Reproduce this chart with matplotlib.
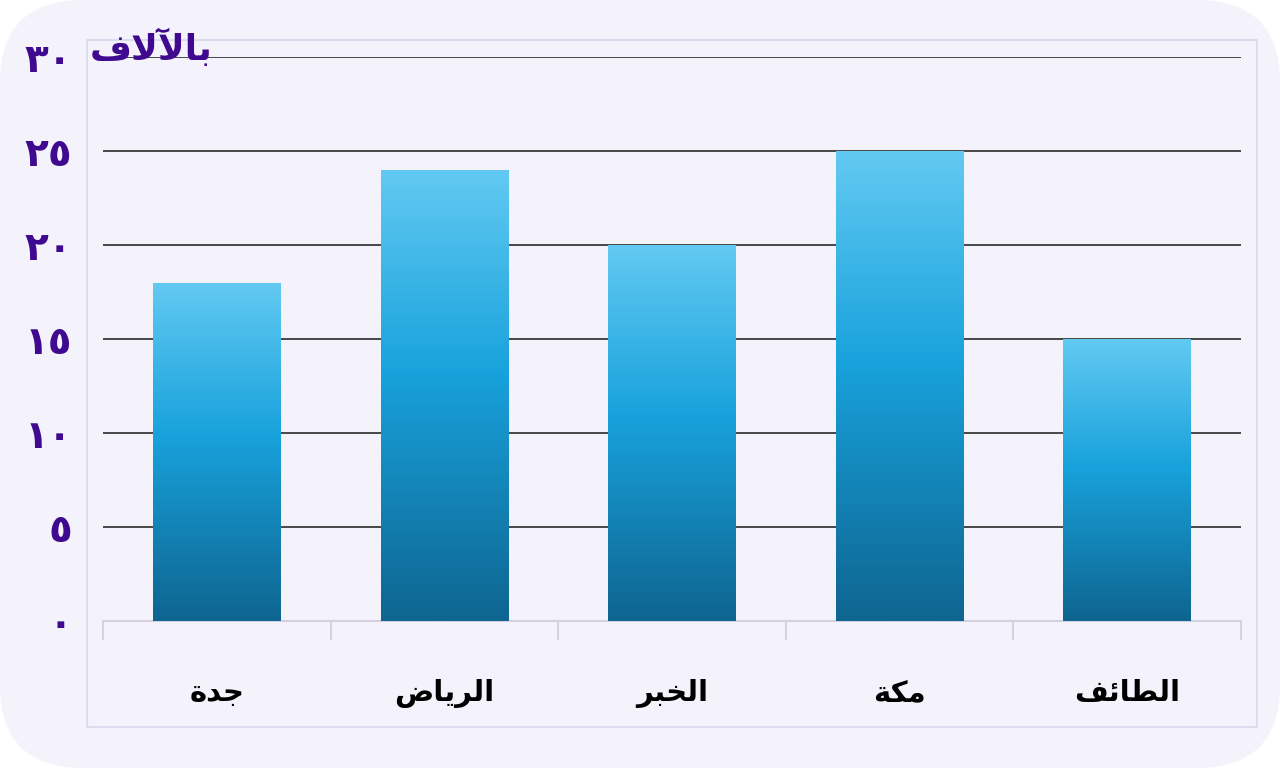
import numpy as np
import matplotlib.pyplot as plt
from matplotlib.patches import FancyBboxPatch, Rectangle
from matplotlib.colors import LinearSegmentedColormap

# Arabic text written in presentation forms, visual (left-to-right) order
cities = ["\uFE93\uFEAA\uFE9F",                      # جدة
          "\uFEBD\uFE8E\uFEF3\uFEAE\uFEDF\uFE8D",    # الرياض
          "\uFEAE\uFE92\uFEA8\uFEDF\uFE8D",          # الخبر
          "\uFE94\uFEDC\uFEE3",                      # مكة
          "\uFED2\uFE8B\uFE8E\uFEC4\uFEDF\uFE8D"]    # الطائف
values = [18, 24, 20, 25, 15]
y_ticks = [0, 5, 10, 15, 20, 25, 30]
y_labels = ["\u0660", "\u0665", "\u0661\u0660", "\u0661\u0665",
            "\u0662\u0660", "\u0662\u0665", "\u0663\u0660"]
unit_label = "\uFED1\uFEFB\uFEF5\uFE8E\uFE91"    # بالآلاف

purple = "#3F0A8F"
W, H = 1280, 768

fig = plt.figure(figsize=(12.8, 7.68), dpi=100, facecolor="white")

# lavender card with rounded corners
card = FancyBboxPatch((0, 0), 1, 1, boxstyle="round,pad=0,rounding_size=0.065",
                      transform=fig.transFigure, facecolor="#F4F2FB",
                      edgecolor="none", mutation_aspect=W / H, zorder=-10)
fig.patches.append(card)
# thin frame around the chart area
frame = Rectangle((87 / W, 1 - 727 / H), (1257 - 87) / W, (727 - 40) / H,
                  transform=fig.transFigure, facecolor="none",
                  edgecolor="#DDDBEE", linewidth=1.5, zorder=-5)
fig.patches.append(frame)

ax = fig.add_axes([103 / W, 1 - 621 / H, (1241 - 103) / W, (621 - 57) / H])
ax.set_facecolor("none")

x = np.arange(len(cities))
bars = ax.bar(x, values, width=0.56, color="none", zorder=3)

cmap = LinearSegmentedColormap.from_list(
    "bar", [(0.0, "#0E6590"), (0.55, "#18A2DC"), (1.0, "#62CAF2")])
grad = np.linspace(0, 1, 256).reshape(-1, 1)
for b in bars:
    x0, w, h = b.get_x(), b.get_width(), b.get_height()
    im = ax.imshow(grad, cmap=cmap, origin="lower", aspect="auto",
                   extent=[x0, x0 + w, 0, h], zorder=3)
    im.set_clip_path(b)

ax.set_xlim(-0.5, len(cities) - 0.5)
ax.set_ylim(0, 30)

for t in y_ticks[1:]:
    ax.axhline(t, color="#3A3A3A", linewidth=1.3, zorder=2)

for s in ["top", "right", "left"]:
    ax.spines[s].set_visible(False)
ax.spines["bottom"].set_color("#D4D2E2")
ax.spines["bottom"].set_linewidth(1.5)

ax.set_xticks(x)
ax.set_xticklabels(cities, fontsize=21, fontweight="bold", family="DejaVu Sans")
ax.tick_params(axis="x", which="major", length=0, pad=42)
ax.set_xticks(np.arange(-0.5, len(cities)), minor=True)
ax.tick_params(axis="x", which="minor", length=14, color="#D4D2E2", width=1.5)

ax.set_yticks(y_ticks)
ax.set_yticklabels(y_labels, fontsize=28, fontweight="bold", color=purple,
                   family="DejaVu Sans")
ax.tick_params(axis="y", length=0, pad=22)

fig.text(90 / W, 1 - 48 / H, unit_label, fontsize=26, fontweight="bold",
         color=purple, family="DejaVu Sans", ha="left", va="center")

fig.savefig("out.png", dpi=100, facecolor="white")
